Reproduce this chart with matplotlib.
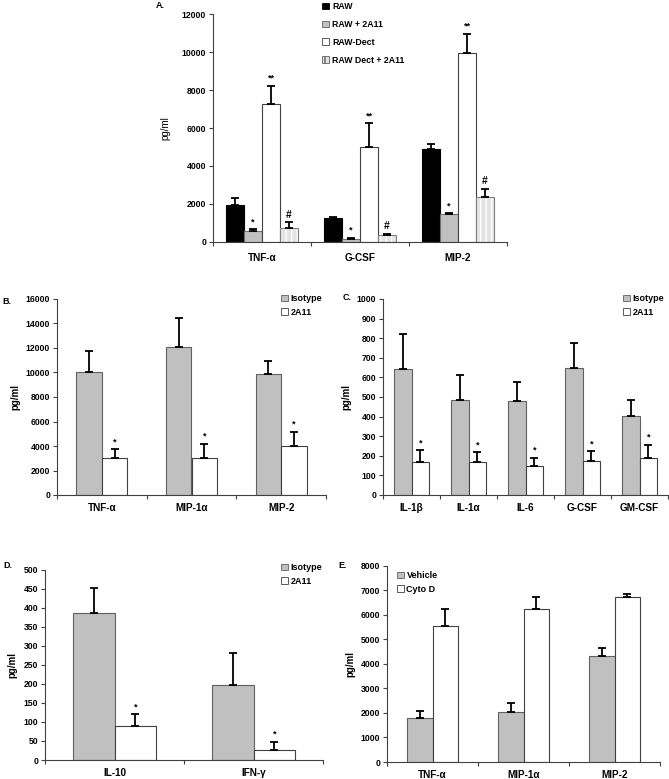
import matplotlib
matplotlib.use("Agg")
import matplotlib.pyplot as plt
import matplotlib.patches as mpatches
import numpy as np

plt.rcParams['font.family'] = ['Liberation Sans', 'DejaVu Sans']
plt.rcParams['font.weight'] = 'bold'

W, H = 669, 779

# ---- panel A data ----
a_cats = ["TNF-α", "G-CSF", "MIP-2"]
a_names = ["RAW", "RAW + 2A11", "RAW-Dect", "RAW Dect + 2A11"]
a_raw = [1930, 1240, 4880]
a_raw_err = [350, 70, 300]
a_2a11 = [570, 140, 1480]
a_2a11_err = [100, 70, 30]
a_dect = [7280, 4990, 9940]
a_dect_err = [950, 1270, 1030]
a_dect2a11 = [740, 340, 2370]
a_dect2a11_err = [280, 80, 430]
a_marks = ["", "*", "**", "#"]

# ---- panel B data ----
b_cats = ["TNF-α", "MIP-1α", "MIP-2"]
b_iso = [10000, 12060, 9850]
b_iso_err = [1780, 2420, 1110]
b_2a11 = [3000, 3050, 3970]
b_2a11_err = [730, 1140, 1200]

# ---- panel C data ----
c_cats = ["IL-1β", "IL-1α", "IL-6", "G-CSF", "GM-CSF"]
c_iso = [643, 486, 479, 646, 402]
c_iso_err = [177, 128, 99, 128, 85]
c_2a11 = [167, 167, 150, 172, 187]
c_2a11_err = [63, 51, 41, 53, 70]

# ---- panel D data ----
d_cats = ["IL-10", "IFN-γ"]
d_iso = [386, 197]
d_iso_err = [66, 85]
d_2a11 = [88, 26]
d_2a11_err = [32, 22]

# ---- panel E data ----
e_cats = ["TNF-α", "MIP-1α", "MIP-2"]
e_names = ["Vehicle", "Cyto D"]
e_veh = [1800, 2020, 4300]
e_veh_err = [280, 380, 350]
e_cyto = [5560, 6240, 6720]
e_cyto_err = [680, 490, 130]

GRAY = '#c0c0c0'


def make_axes(fig, left, right, top, bottom):
    # pixel box -> figure fraction
    return fig.add_axes([left / W, 1 - bottom / H, (right - left) / W, (bottom - top) / H])


def style_axes(ax, cats, ymax, ystep, xpad=6):
    n = len(cats)
    ax.set_xlim(-0.5, n - 0.5)
    ax.set_ylim(0, ymax)
    ax.set_yticks(np.arange(0, ymax + 1, ystep))
    ax.set_xticks(np.arange(n + 1) - 0.5)
    ax.set_xticklabels([])
    ax.set_xticks(np.arange(n), minor=True)
    ax.set_xticklabels(cats, minor=True, fontsize=7.2, fontweight='bold')
    ax.tick_params(axis='x', which='minor', length=0, pad=xpad)
    ax.tick_params(axis='x', which='major', length=3, width=0.8, color='#404040')
    ax.tick_params(axis='y', length=3, width=0.8, color='#404040', labelsize=6.2, pad=2)
    for lab in ax.get_yticklabels():
        lab.set_fontweight('bold')
    for s in ['top', 'right']:
        ax.spines[s].set_visible(False)
    for s in ['left', 'bottom']:
        ax.spines[s].set_color('#404040')
        ax.spines[s].set_linewidth(0.8)
    ax.set_ylabel("pg/ml", fontsize=7, fontweight='bold', labelpad=4)


def draw_bars(ax, x, vals, errs, width, face, edge, hatch=None, mark=""):
    x = np.asarray(x)
    if hatch:
        ax.bar(x, vals, width, color=face, edgecolor='#ffffff', hatch=hatch, linewidth=0)
        bars = ax.bar(x, vals, width, fill=False, edgecolor=edge, linewidth=0.8)
    else:
        bars = ax.bar(x, vals, width, color=face, edgecolor=edge, linewidth=0.8)
    ax.errorbar(x, vals, yerr=[np.zeros(len(vals)), errs], fmt='none', ecolor='black',
                elinewidth=1.3, capsize=3, capthick=1.3)
    if mark:
        for xi, v, e in zip(x, vals, errs):
            ax.annotate(mark, (xi, v + e), xytext=(0, 2), textcoords='offset points',
                        ha='center', va='bottom', fontsize=6.5 if mark != "#" else 7.5,
                        fontweight='bold')
    return bars


fig = plt.figure(figsize=(W / 100, H / 100), dpi=100)

# ---------- A ----------
ax = make_axes(fig, 213, 507, 14.3, 241.7)
x = np.arange(len(a_cats))
bw = 0.183
offs = (np.arange(4) - 1.5) * bw
draw_bars(ax, x + offs[0], a_raw, a_raw_err, bw, 'black', 'black')
draw_bars(ax, x + offs[1], a_2a11, a_2a11_err, bw, GRAY, '#707070', mark=a_marks[1])
draw_bars(ax, x + offs[2], a_dect, a_dect_err, bw, 'white', '#404040', mark=a_marks[2])
draw_bars(ax, x + offs[3], a_dect2a11, a_dect2a11_err, bw, '#e3e3e3', '#808080',
          hatch='|||', mark=a_marks[3])
style_axes(ax, a_cats, 12000, 2000, xpad=8)
ax.set_ylabel("pg/ml", fontsize=7, fontweight='normal', labelpad=8)
handles = [mpatches.Patch(facecolor='black', edgecolor='black', linewidth=0.6),
           mpatches.Patch(facecolor=GRAY, edgecolor='#606060', linewidth=0.6),
           mpatches.Patch(facecolor='white', edgecolor='#404040', linewidth=0.6),
           mpatches.Patch(facecolor='#e3e3e3', edgecolor='#606060', hatch='|||', linewidth=0.6)]
fig.legend(handles, a_names, loc='upper left', bbox_to_anchor=(322 / W, 1 - 2 / H),
           frameon=False, handlelength=0.8, handleheight=0.8,
           handletextpad=0.35, labelspacing=1.02, borderpad=0, borderaxespad=0,
           prop={'weight': 'bold', 'size': 6.3})
fig.text(156 / W, 1 - 6 / H, "A.", fontsize=6.5, fontweight='bold', va='center')


def two_group(ax, cats, v1, e1, v2, e2, bw, mark2="*"):
    x = np.arange(len(cats))
    draw_bars(ax, x - bw / 2, v1, e1, bw, GRAY, '#606060')
    draw_bars(ax, x + bw / 2, v2, e2, bw, 'white', '#404040', mark=mark2)


def small_legend(names, px, py):
    handles = [mpatches.Patch(facecolor=GRAY, edgecolor='#606060', linewidth=0.6),
               mpatches.Patch(facecolor='white', edgecolor='#404040', linewidth=0.6)]
    fig.legend(handles, names, loc='upper left', bbox_to_anchor=(px / W, 1 - py / H),
               frameon=False, handlelength=0.75, handleheight=0.75,
               handletextpad=0.3, labelspacing=0.5, borderpad=0, borderaxespad=0,
               prop={'weight': 'bold', 'size': 6.5})


# ---------- B ----------
ax = make_axes(fig, 57, 326, 299, 495)
two_group(ax, b_cats, b_iso, b_iso_err, b_2a11, b_2a11_err, 0.285)
style_axes(ax, b_cats, 16000, 2000)
small_legend(["Isotype", "2A11"], 281, 294)
fig.text(2 / W, 1 - 301 / H, "B.", fontsize=6.5, fontweight='bold', va='center')

# ---------- C ----------
ax = make_axes(fig, 383, 668, 299, 495)
two_group(ax, c_cats, c_iso, c_iso_err, c_2a11, c_2a11_err, 0.31)
style_axes(ax, c_cats, 1000, 100)
small_legend(["Isotype", "2A11"], 623, 294)
fig.text(343 / W, 1 - 298 / H, "C.", fontsize=6.5, fontweight='bold', va='center')

# ---------- D ----------
ax = make_axes(fig, 45, 323, 569.5, 760)
two_group(ax, d_cats, d_iso, d_iso_err, d_2a11, d_2a11_err, 0.30)
style_axes(ax, d_cats, 500, 50)
small_legend(["Isotype", "2A11"], 281, 563)
fig.text(3 / W, 1 - 566 / H, "D.", fontsize=6.5, fontweight='bold', va='center')

# ---------- E ----------
ax = make_axes(fig, 387, 660, 565.7, 762)
two_group(ax, e_cats, e_veh, e_veh_err, e_cyto, e_cyto_err, 0.285, mark2="")
style_axes(ax, e_cats, 8000, 1000)
small_legend(e_names, 397, 571)
fig.text(338 / W, 1 - 566 / H, "E.", fontsize=6.5, fontweight='bold', va='center')

fig.savefig("out.png", dpi=100)
